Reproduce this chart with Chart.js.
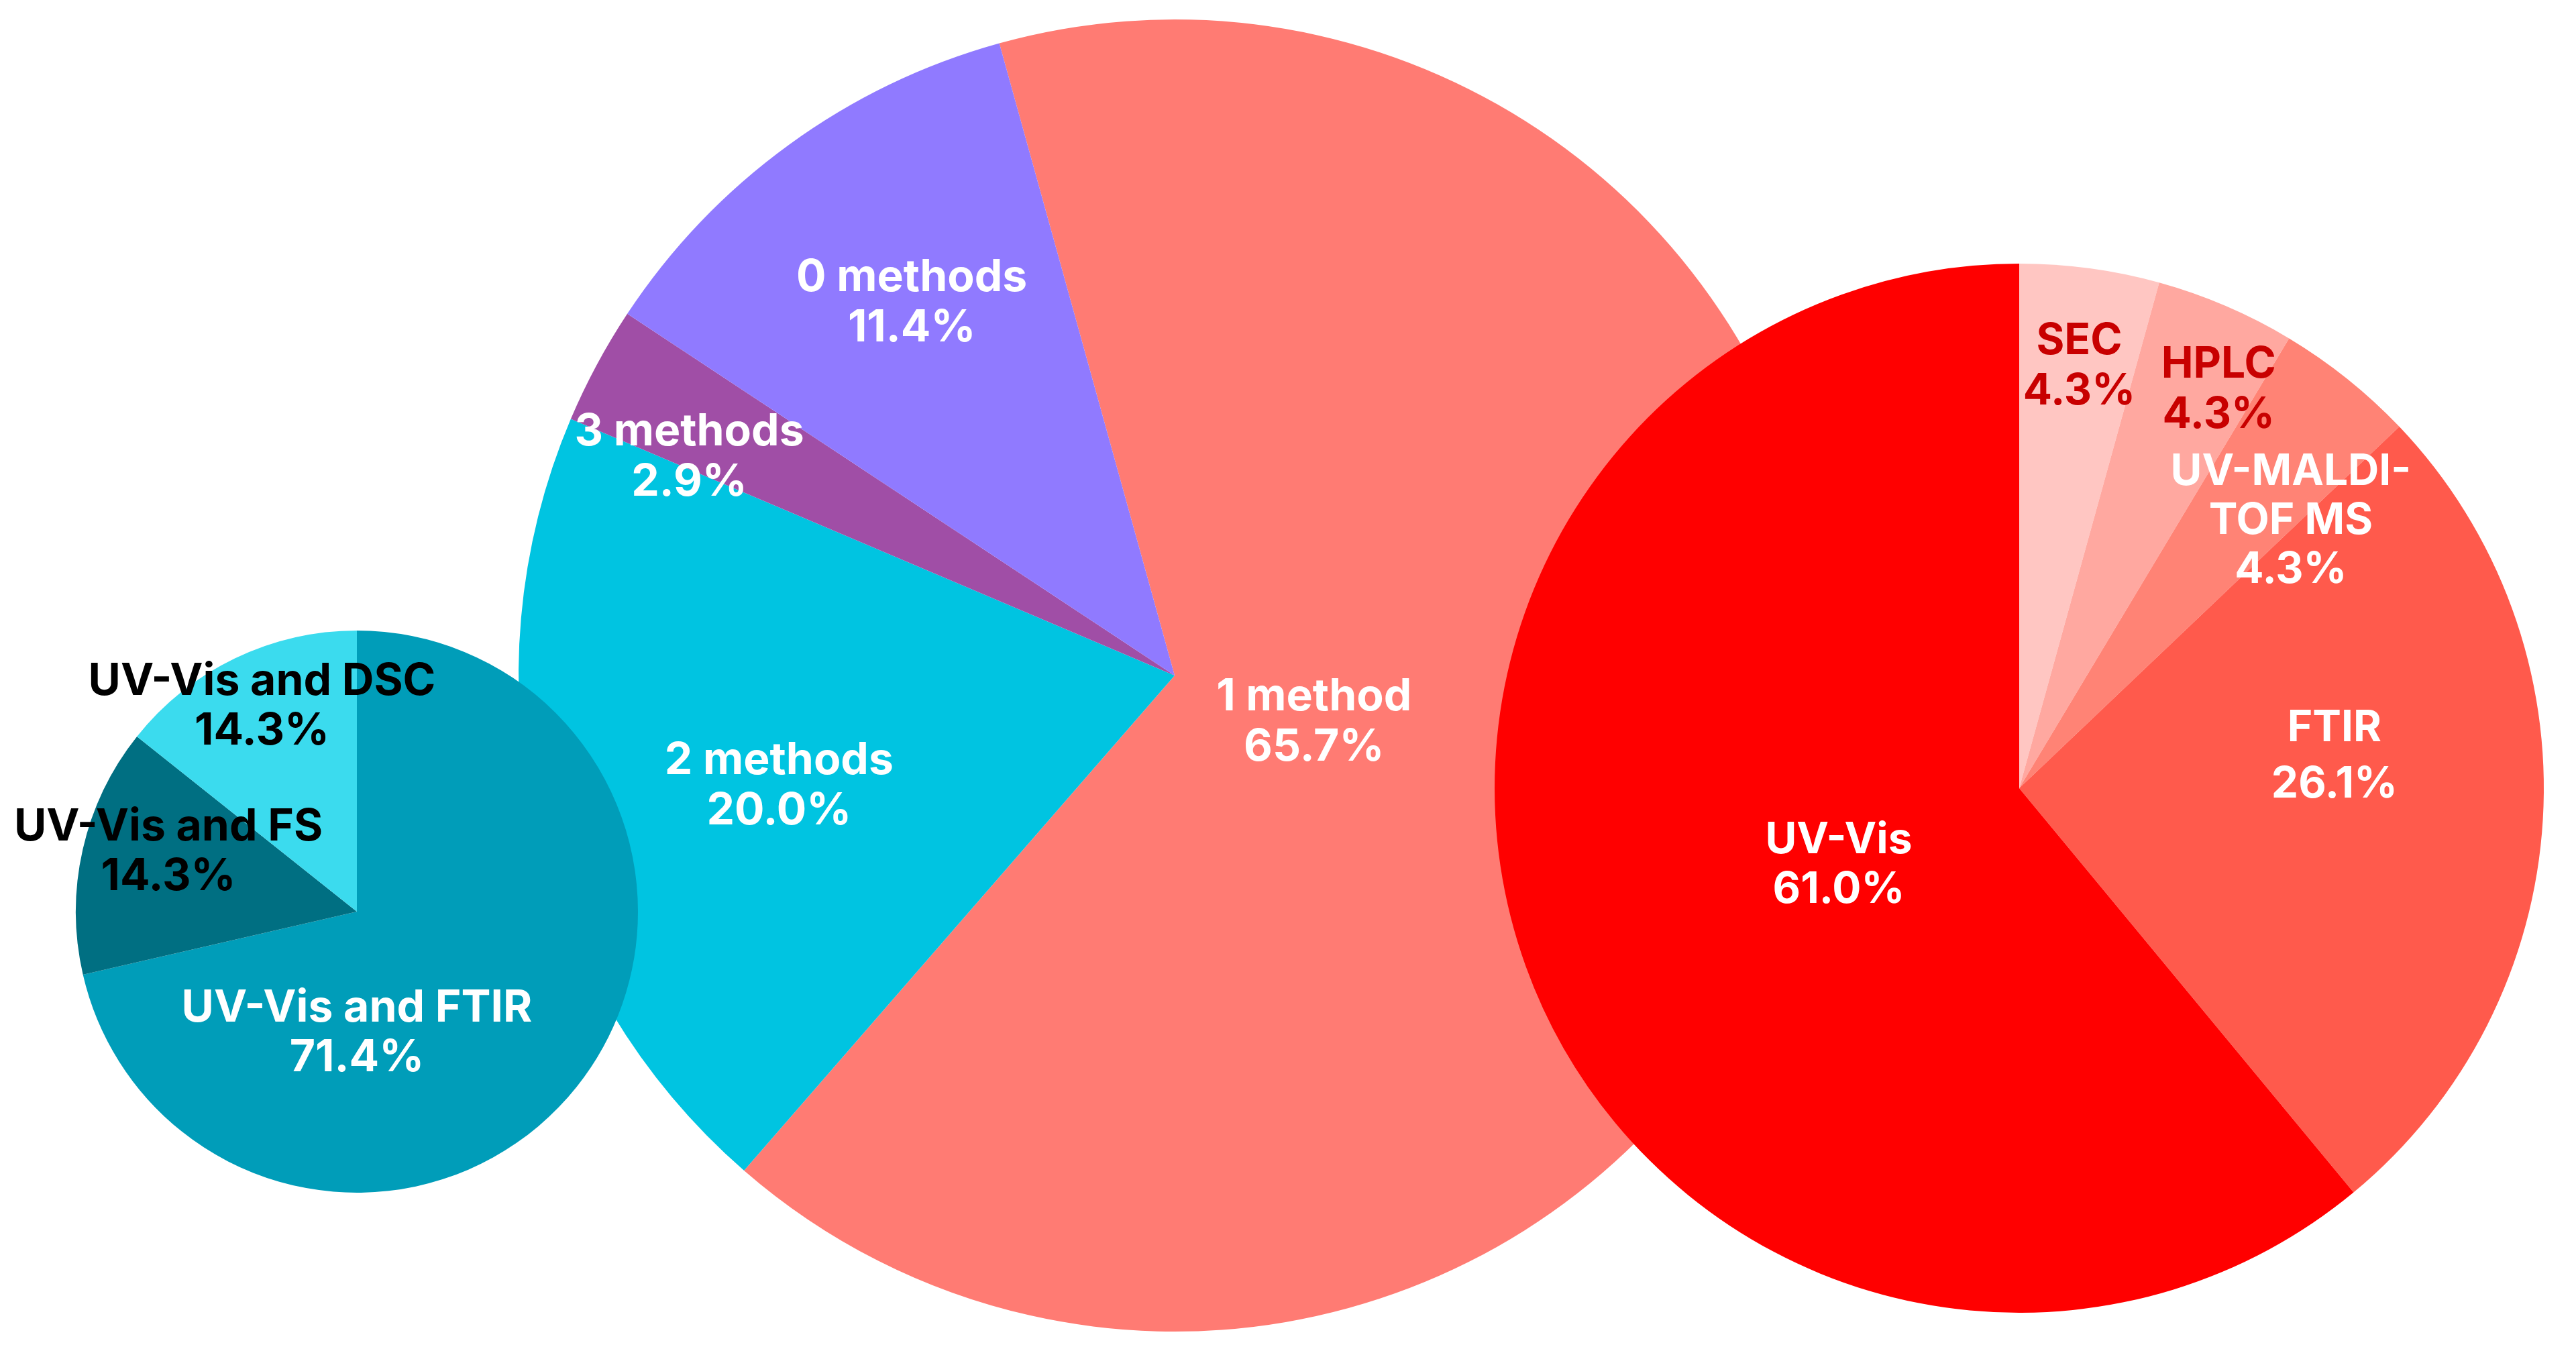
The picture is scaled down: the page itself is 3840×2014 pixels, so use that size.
<!DOCTYPE html>
<html>
<head>
<meta charset="utf-8">
<script src="https://cdn.jsdelivr.net/npm/chart.js@4.4.1/dist/chart.umd.min.js"></script>
<style>
  html, body { margin: 0; padding: 0; background: #ffffff; }
  #wrap { position: relative; width: 3840px; height: 2014px; overflow: hidden; }
  .layer { position: absolute; left: 0; top: 0; width: 3840px; height: 2014px; }
</style>
</head>
<body>
<div id="wrap">
  <div class="layer"><canvas id="methods"></canvas></div>
  <div class="layer"><canvas id="combos"></canvas></div>
  <div class="layer"><canvas id="single"></canvas></div>
</div>
<script>
// number of methods used (middle pie)
var methodsLabels = [["1 method"], ["2 methods"], ["3 methods"], ["0 methods"]];
var methodsValues = [65.7, 20.0, 2.9, 11.4];

// combinations used when 2 methods (left pie)
var combosLabels = [["UV-Vis and FTIR"], ["UV-Vis and FS"], ["UV-Vis and DSC"]];
var combosValues = [71.4, 14.3, 14.3];

// single method used (right pie)
var singleLabels = [["SEC"], ["HPLC"], ["UV-MALDI-", "TOF MS"], ["FTIR"], ["UV-Vis"]];
var singleValues = [4.3, 4.3, 4.3, 26.1, 61.0];

var W = 3840, H = 2014;

// draws the two-line labels; angle in degrees clockwise from top, r as fraction of radius
var sliceLabels = {
  id: "sliceLabels",
  afterDatasetsDraw: function (chart, args, opts) {
    var ctx = chart.ctx;
    var arcs = chart.getDatasetMeta(0).data;
    var values = chart.data.datasets[0].data;
    ctx.save();
    ctx.font = "700 " + opts.size + "px Inter, 'Noto Sans', sans-serif";
    ctx.textAlign = "center";
    ctx.textBaseline = "middle";
    arcs.forEach(function (arc, i) {
      var p = arc.getProps(["x", "y", "outerRadius"], true);
      var a = (opts.angle[i] - 90) * Math.PI / 180;
      var cx = p.x + Math.cos(a) * p.outerRadius * opts.radius[i];
      var cy = p.y + Math.sin(a) * p.outerRadius * opts.radius[i];
      var lines = chart.data.labels[i].concat([values[i].toFixed(1) + "%"]);
      var lh = opts.lineHeight[i] || opts.lineHeight;
      ctx.fillStyle = opts.colors[i];
      lines.forEach(function (t, k) {
        ctx.fillText(t, cx, cy + (k - (lines.length - 1) / 2) * lh);
      });
    });
    ctx.restore();
  }
};

function makePie(id, labels, values, colors, center, radius, rotation, labelOpts) {
  var ctx = document.getElementById(id).getContext("2d");
  return new Chart(ctx, {
    type: "pie",
    data: {
      labels: labels,
      datasets: [{
        data: values,
        backgroundColor: colors,
        borderWidth: 0,
        hoverOffset: 0
      }]
    },
    options: {
      responsive: true,
      maintainAspectRatio: false,
      animation: false,
      events: [],
      rotation: rotation,
      layout: {
        padding: {
          left: center[0] - radius,
          top: center[1] - radius,
          right: W - center[0] - radius,
          bottom: H - center[1] - radius
        }
      },
      plugins: {
        legend: { display: false },
        tooltip: { enabled: false },
        sliceLabels: labelOpts
      }
    },
    plugins: [sliceLabels]
  });
}

makePie("methods", methodsLabels, methodsValues,
  ["#FF7B73", "#00C4E1", "#A04EA6", "#907AFF"],
  [1751, 1007], 978, -15.5,
  {
    size: 66, lineHeight: 75,
    angle: [108.5, 254.4, 294.2, 324.8],
    radius: [0.224, 0.626, 0.811, 0.695],
    colors: ["#FFFFFF", "#FFFFFF", "#FFFFFF", "#FFFFFF"]
  });

makePie("combos", combosLabels, combosValues,
  ["#009DB9", "#006F82", "#3BDBEE"],
  [532, 1359], 419, 0,
  {
    size: 66, lineHeight: 74,
    angle: [180, 287.5, 335.2],
    radius: [0.432, 0.703, 0.805],
    colors: ["#FFFFFF", "#000000", "#000000"]
  });

makePie("single", singleLabels, singleValues,
  ["#FFC6C2", "#FFA8A0", "#FF8375", "#FF5A4C", "#FF0000"],
  [3010, 1175], 782, 0,
  {
    size: 64, lineHeight: [75, 75, 73, 84, 74],
    angle: [8.1, 26.6, 45.5, 84.2, 246.9],
    radius: [0.812, 0.849, 0.726, 0.604, 0.374],
    colors: ["#C80000", "#C80000", "#FFFFFF", "#FFFFFF", "#FFFFFF"]
  });
</script>
</body>
</html>
